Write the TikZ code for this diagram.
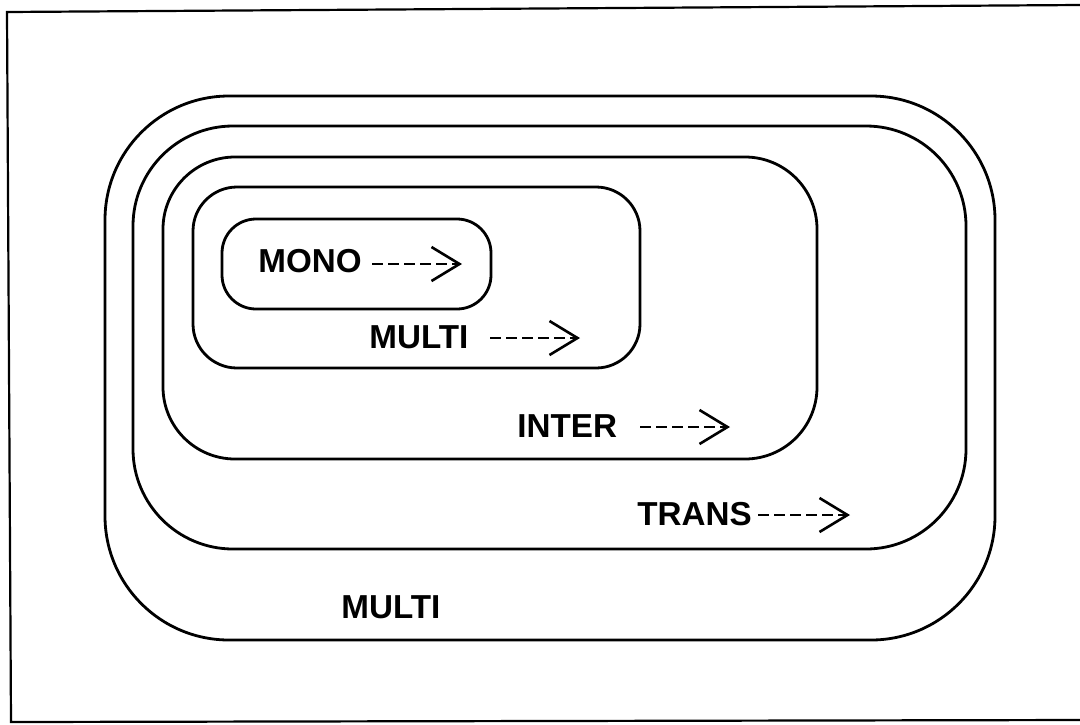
\documentclass[tikz,border=0pt]{standalone}
\usepackage{fontspec}
\setmainfont{Liberation Sans}
\usetikzlibrary{arrows.meta}
\tikzset{
  shell/.style={draw=black, line width=1.4pt},
  frameline/.style={draw=black, line width=1.1pt},
  lbl/.style={anchor=base west, inner sep=0pt, font=\fontsize{16.6}{20}\selectfont\bfseries},
  dasharrow/.style={draw=black, line width=1.3pt, dash pattern=on 5.5pt off 2.5pt,
    -{Straight Barb[length=14pt, width=17pt, line width=1.3pt]}}
}
\begin{document}
\begin{tikzpicture}[x=0.5pt, y=-0.5pt]
\useasboundingbox (0,0) rectangle (1080,724);

% page frame
\draw[frameline] (1080,5) -- (7,12) -- (11,722) -- (1080,720);

% nested rounded regions, outermost first
\draw[shell, rounded corners=62pt] (105,96) rectangle (995,640);
\draw[shell, rounded corners=50pt] (133,126) rectangle (966,549);
\draw[shell, rounded corners=36pt] (163,157) rectangle (817,459);
\draw[shell, rounded corners=22pt] (193,187) rectangle (640,368);
\draw[shell, rounded corners=17pt] (222,219) rectangle (491,309);

% labels
\node[lbl] (mono)   at (258,272) {MONO};
\node[lbl] (multiA) at (369,348) {MULTI};
\node[lbl] (inter)  at (517,437) {INTER};
\node[lbl] (trans)  at (637,525) {TRANS};
\node[lbl] (multiB) at (341,618) {MULTI};

% dashed arrows after the labels
\coordinate (monoS)  at (372,264);  \coordinate (monoE)  at (462,264);
\coordinate (multiS) at (490,338);  \coordinate (multiE) at (580,338);
\coordinate (interS) at (640,427);  \coordinate (interE) at (730,427);
\coordinate (transS) at (758,515);  \coordinate (transE) at (850,515);
\draw[dasharrow] (monoS) -- (monoE);
\draw[dasharrow] (multiS) -- (multiE);
\draw[dasharrow] (interS) -- (interE);
\draw[dasharrow] (transS) -- (transE);
\end{tikzpicture}
\end{document}
